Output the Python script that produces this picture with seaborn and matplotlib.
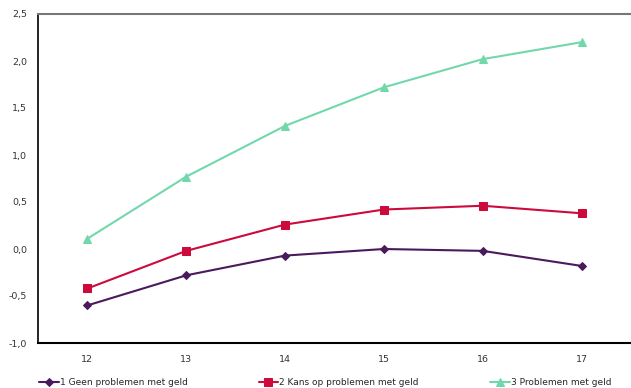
import pandas as pd
import numpy as np
import matplotlib
matplotlib.use("Agg")
import matplotlib.pyplot as plt
import seaborn as sns

# Leeftijden (x-as)
leeftijd = [12, 13, 14, 15, 16, 17]

# Waarden per groep
geen_problemen = [-0.60, -0.28, -0.07, 0.00, -0.02, -0.18]
kans_problemen = [-0.42, -0.02, 0.26, 0.42, 0.46, 0.38]
problemen = [0.11, 0.77, 1.31, 1.72, 2.02, 2.20]

labels = ["1 Geen problemen met geld", "2 Kans op problemen met geld", "3 Problemen met geld"]
kleuren = ["#4a1a5c", "#cc0a3c", "#72d8ab"]
markers = ["D", "s", "^"]
marker_sizes = [4, 6, 6]

df = pd.DataFrame({
    "leeftijd": leeftijd * 3,
    "waarde": geen_problemen + kans_problemen + problemen,
    "groep": np.repeat(labels, len(leeftijd)),
})

sns.set_style("white")
plt.rcParams["font.family"] = ["DejaVu Sans"]

fig = plt.figure(figsize=(6.31, 3.88), dpi=100)
ax = fig.add_axes([38 / 631, 1 - 343 / 388, 1 - 38 / 631, (343 - 14) / 388])

for lab, kleur, m, ms in zip(labels, kleuren, markers, marker_sizes):
    sub = df[df["groep"] == lab]
    sns.lineplot(data=sub, x="leeftijd", y="waarde", color=kleur, marker=m,
                 markersize=ms, markeredgecolor=kleur, linewidth=1.5,
                 label=lab, ax=ax)

ax.set_xlim(11.5, 17.5)
ax.set_ylim(-1.0, 2.5)
ax.set_xticks(leeftijd)
ax.set_yticks(np.arange(-1.0, 2.51, 0.5))
ax.set_yticklabels([f"{v:.1f}".replace(".", ",") for v in np.arange(-1.0, 2.51, 0.5)])
ax.tick_params(axis="both", length=0, labelsize=6.8, colors="#333333")
ax.tick_params(axis="x", pad=9)
ax.tick_params(axis="y", pad=8)
ax.set_xlabel("")
ax.set_ylabel("")

ax.spines["right"].set_visible(False)
ax.spines["top"].set_color("#777777")
ax.spines["top"].set_linewidth(1.5)
ax.spines["left"].set_color("black")
ax.spines["bottom"].set_color("black")
ax.spines["left"].set_linewidth(1.2)
ax.spines["bottom"].set_linewidth(1.5)

ax.get_legend().remove()
handles, labs = ax.get_legend_handles_labels()
fig.legend(handles, labs, loc="lower left", bbox_to_anchor=(38 / 631, 0.0, (612 - 38) / 631, 0.04),
           ncol=3, mode="expand", frameon=False, fontsize=6.5, handlelength=2.2,
           handletextpad=0.1, borderaxespad=0.0, borderpad=0.1)

fig.savefig("out.png", dpi=100)
